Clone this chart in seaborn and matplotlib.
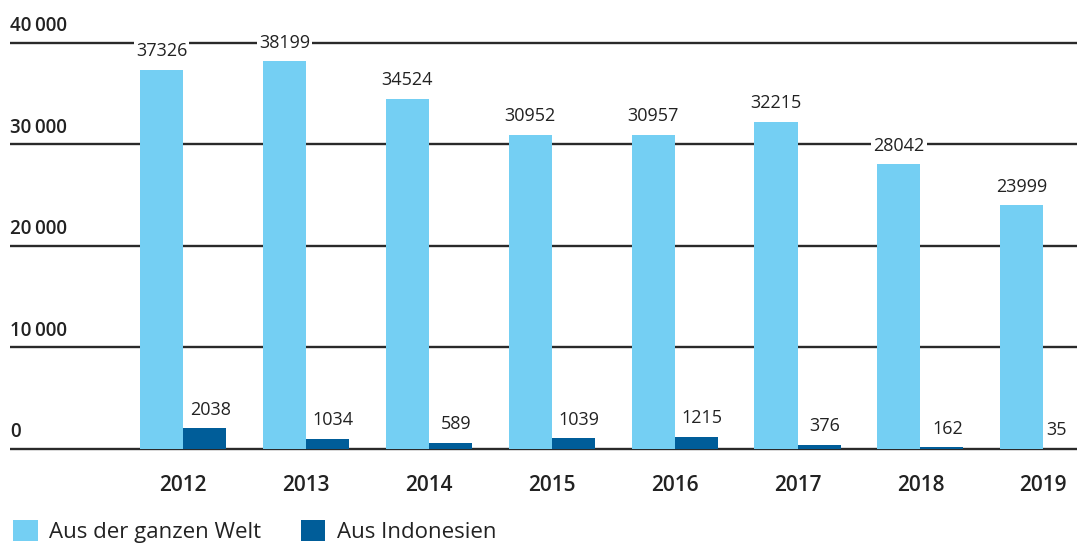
import matplotlib
matplotlib.use("Agg")
import matplotlib.pyplot as plt
import matplotlib.transforms as mtransforms
from matplotlib.patches import Patch
import pandas as pd
import seaborn as sns

years = ["2012", "2013", "2014", "2015", "2016", "2017", "2018", "2019"]
welt = [37326, 38199, 34524, 30952, 30957, 32215, 28042, 23999]
indonesien = [2038, 1034, 589, 1039, 1215, 376, 162, 35]
series_names = ["Aus der ganzen Welt", "Aus Indonesien"]
y_ticks = [0, 10000, 20000, 30000, 40000]
y_tick_labels = ["0", "10\u2009000", "20\u2009000", "30\u2009000", "40\u2009000"]

LIGHT = "#74CFF3"
DARK = "#005D99"
TEXT = "#222222"

sns.set_style("white")
plt.rcParams["font.family"] = ["Open Sans", "DejaVu Sans"]

df = pd.DataFrame({
    "year": years * 2,
    "value": welt + indonesien,
    "series": [series_names[0]] * len(years) + [series_names[1]] * len(years),
})

W, H = 1077, 543
fig = plt.figure(figsize=(W / 100, H / 100), dpi=100)

# axes placement in pixels: zero line at y=449, 40000 line at y=43
zero_px, top_px = 449, 43
per_unit = (zero_px - top_px) / 40000
margin = 600
ax_bottom = 1 - (zero_px + margin * per_unit) / H
ax_top = 1 - (top_px - margin * per_unit) / H
ax = fig.add_axes([10 / W, ax_bottom, 1067 / W, ax_top - ax_bottom])

sns.barplot(data=df, x="year", y="value", hue="series", palette=[LIGHT, DARK],
            width=0.70, saturation=1, ax=ax, legend=False, errorbar=None,
            linewidth=0, zorder=3)

step = 122.9
ax.set_xlim((10 - 183) / step, (1077 - 183) / step)
ax.set_ylim(-margin, 40000 + margin)

for v in y_ticks:
    ax.axhline(v, color="#2a2a2a", linewidth=1.7, zorder=1)

trans = mtransforms.blended_transform_factory(ax.transAxes, ax.transData)
offset = mtransforms.offset_copy(trans, fig=fig, x=0, y=5, units="points")
for v, lab in zip(y_ticks, y_tick_labels):
    ax.text(0, v, lab, transform=offset, ha="left", va="bottom",
            fontsize=13.5, color=TEXT, fontweight="semibold")

# value labels; the dark series labels sit a little to the right
for cont, dx in zip(ax.containers, [0, 4]):
    labels = [f"{int(b.get_height())}" for b in cont]
    anns = ax.bar_label(cont, labels=labels, padding=7, fontsize=13, color=TEXT,
                        bbox=dict(facecolor="white", edgecolor="none", pad=1.5),
                        zorder=2, clip_on=False)
    for a in anns:
        a.xyann = (dx, a.xyann[1])
# last dark label would run past the right edge
anns[-1].xyann = (-6, anns[-1].xyann[1])

ax.set_yticks([])
ax.set_xlabel("")
ax.set_ylabel("")
ax.tick_params(axis="x", length=0, pad=14, labelsize=15, labelcolor=TEXT)
for lab in ax.get_xticklabels():
    lab.set_fontweight("semibold")
sns.despine(ax=ax, left=True, bottom=True)

handles = [Patch(facecolor=LIGHT, edgecolor="none"), Patch(facecolor=DARK, edgecolor="none")]
fig.legend(handles, series_names, loc="lower left", bbox_to_anchor=(0.0, -0.025),
           ncol=2, frameon=False, fontsize=16, handlelength=1.1, handleheight=1.1,
           handletextpad=0.5, columnspacing=1.8, borderaxespad=0.2, labelcolor=TEXT)

fig.savefig("out.png", dpi=100)
